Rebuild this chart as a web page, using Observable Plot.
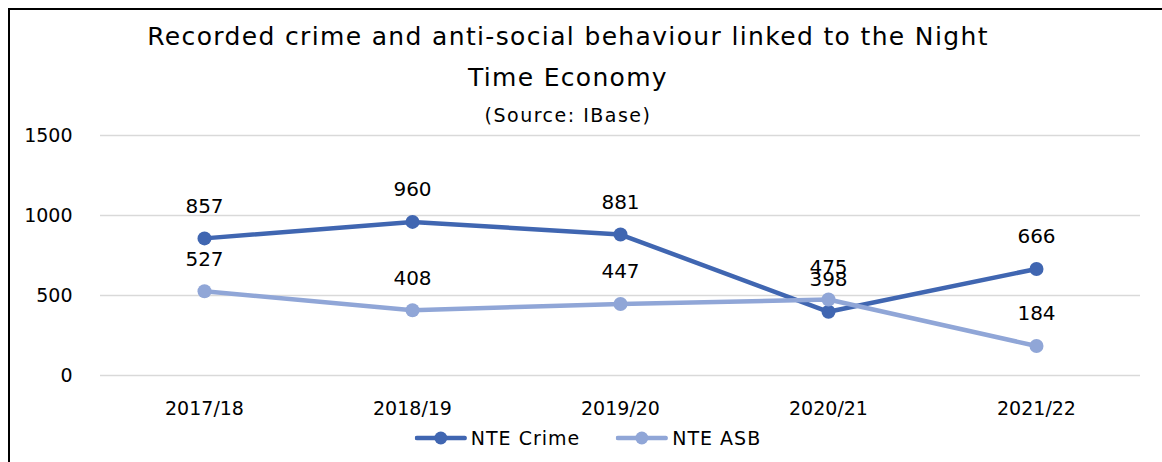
<!DOCTYPE html>
<html>
<head>
<meta charset="utf-8">
<script src="https://cdn.jsdelivr.net/npm/d3@7"></script>
<script src="https://cdn.jsdelivr.net/npm/@observablehq/plot@0.6"></script>
<style>
  html, body { margin: 0; padding: 0; background: #fff; }
  body { width: 1162px; height: 462px; overflow: hidden; position: relative; font-family: "DejaVu Sans", sans-serif; color: #000; }
  #frame { position: absolute; left: 8px; top: 8px; width: 1160px; height: 460px; border-top: 2px solid #000; border-left: 2px solid #000; }
  #chart { position: absolute; left: 0; top: 0; }
  .title { position: absolute; left: 568px; transform: translateX(-50%); white-space: nowrap; text-align: center; }
  #t1 { top: 22px; font-size: 25px; letter-spacing: 1.35px; }
  #t2 { top: 63px; font-size: 25px; letter-spacing: 1.3px; }
  #t3 { top: 104px; font-size: 19px; letter-spacing: 1.5px; }
  #legend { position: absolute; top: 427px; left: 588px; transform: translateX(-50%); display: flex; gap: 36px; font-size: 19px; letter-spacing: 1px; white-space: nowrap; }
  .item { display: flex; align-items: center; gap: 4px; }
</style>
</head>
<body>
<div id="frame"></div>
<div id="chart"></div>
<div class="title" id="t1">Recorded crime and anti-social behaviour linked to the Night</div>
<div class="title" id="t2">Time Economy</div>
<div class="title" id="t3">(Source: IBase)</div>
<div id="legend"></div>
<script>
const years = ["2017/18", "2018/19", "2019/20", "2020/21", "2021/22"];
const crime = [857, 960, 881, 398, 666];
const asb = [527, 408, 447, 475, 184];
const seriesNames = ["NTE Crime", "NTE ASB"];
const seriesColors = ["#4066b1", "#90a6d7"];
const yTicks = [0, 500, 1000, 1500];

const data = [];
years.forEach((y, i) => {
  data.push({year: y, value: crime[i], series: seriesNames[0]});
  data.push({year: y, value: asb[i], series: seriesNames[1]});
});

const plot = Plot.plot({
  width: 1162,
  height: 462,
  marginLeft: 100,
  marginRight: 22,
  marginTop: 135,
  marginBottom: 87,
  style: { fontFamily: '"DejaVu Sans", sans-serif', fontSize: "19px", background: "transparent", color: "#000" },
  x: { type: "point", domain: years, padding: 0.5, label: null },
  y: { domain: [0, 1500], ticks: yTicks, label: null },
  color: { domain: seriesNames, range: seriesColors },
  marks: [
    Plot.ruleY(yTicks, { stroke: "#d9d9d9", strokeWidth: 1.5 }),
    Plot.axisY({ ticks: yTicks, tickSize: 0, tickPadding: 28, tickFormat: d => String(d), label: null, fontSize: 19 }),
    Plot.axisX({ tickSize: 0, tickPadding: 26, label: null, fontSize: 19 }),
    Plot.line(data, { x: "year", y: "value", z: "series", stroke: "series", strokeWidth: 4.5 }),
    Plot.dot(data, { x: "year", y: "value", fill: "series", r: 7 }),
    Plot.text(data, { x: "year", y: "value", text: d => String(d.value), dy: -32, fontSize: 20, fill: "#000" })
  ]
});
document.getElementById("chart").appendChild(plot);

const legend = document.getElementById("legend");
seriesNames.forEach((n, i) => {
  const item = document.createElement("div");
  item.className = "item";
  item.innerHTML = `<svg width="52" height="16"><line x1="2" y1="8" x2="50" y2="8" stroke="${seriesColors[i]}" stroke-width="4.5" stroke-linecap="round"/><circle cx="26" cy="8" r="6.5" fill="${seriesColors[i]}"/></svg><span>${n}</span>`;
  legend.appendChild(item);
});
</script>
</body>
</html>
